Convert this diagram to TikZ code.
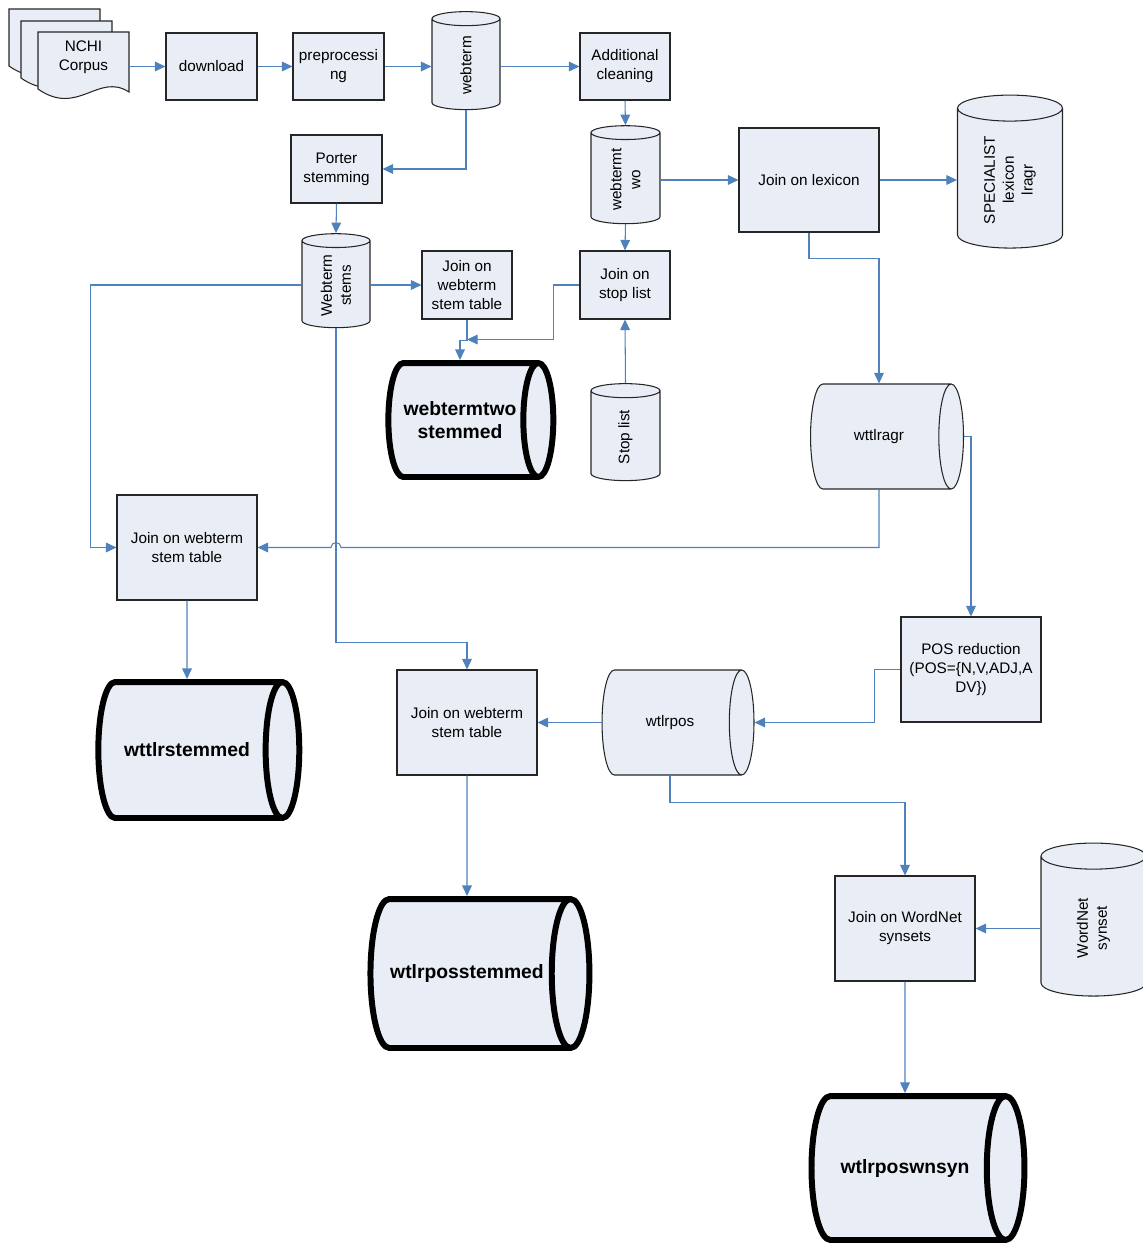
\documentclass[tikz,border=0pt]{standalone}
\usepackage{fontspec}
\setsansfont{Liberation Sans}
\usetikzlibrary{shapes.geometric,arrows.meta,calc}
\definecolor{boxfill}{RGB}{233,237,246}
\definecolor{flowblue}{RGB}{79,129,189}

\begin{document}
\begin{tikzpicture}[x=0.02cm, y=-0.02cm,
    font=\sffamily\fontsize{8.7}{10.8}\selectfont,
    doc/.style={draw=black!85, line width=0.6pt, fill=boxfill},
    proc/.style={draw=black!85, line width=0.6pt, fill=boxfill, align=center, inner sep=1pt},
    vstore/.style={cylinder, draw=black!85, line width=0.6pt, fill=boxfill, align=center, inner sep=1pt, rotate=90},
    hstore/.style={cylinder, draw=black!85, line width=0.6pt, fill=boxfill, align=center, inner sep=1pt},
    result/.style={hstore, draw=black, line width=3.4pt, font=\sffamily\bfseries\fontsize{11}{13}\selectfont},
    flow/.style={draw=flowblue, line width=0.6pt, -{Triangle[length=6pt,width=5.5pt]}}]
  \useasboundingbox (0,0) rectangle (1143,1245);

  % corpus pages
  \foreach \dx/\dy in {9/9, 21/21, 38/32}
    \draw[doc, shift={(\dx,\dy)}] (0,0) -- (91,0) -- (91,60) .. controls (60,40) and (40,85) .. (0,57) -- cycle;
  \node[align=center, minimum width=1.82cm] (corpus) at (83.5,57.5) {NCHI\\Corpus};

  % top row
  \node[proc, minimum width=1.82cm, minimum height=1.34cm] (download) at (211.5,66.5) {download};
  \node[proc, minimum width=1.82cm, minimum height=1.34cm] (prep) at (338.5,66.5) {preprocessi\\ng};
  \node[vstore, minimum height=1.96cm, minimum width=1.36cm, aspect=0.95] (webterm) at (466,65.5) {webterm};
  \node[proc, minimum width=1.8cm, minimum height=1.34cm] (clean) at (625,66.5) {Additional\\cleaning};

  % lexicon branch
  \node[vstore, minimum height=1.96cm, minimum width=1.38cm, aspect=0.41] (webtermtwo) at (625.5,179.5) {webtermt\\wo};
  \node[proc, minimum width=2.8cm, minimum height=2.08cm] (lexicon) at (809,180) {Join on lexicon};
  \node[vstore, minimum height=3.06cm, minimum width=2.1cm, aspect=0.47] (specialist) at (1010,180) {SPECIALIST\\lexicon\\lragr};
  \node[hstore, minimum height=3.06cm, minimum width=2.1cm, aspect=1.39] (wttlragr) at (879,436.5) {wttlragr};

  % stemming branch
  \node[proc, minimum width=1.82cm, minimum height=1.36cm] (porter) at (336.5,169) {Porter\\stemming};
  \node[vstore, minimum height=1.88cm, minimum width=1.36cm, aspect=0.41] (stems) at (336,285.5) {Webterm\\stems};
  \node[proc, minimum width=1.8cm, minimum height=1.36cm] (joinA) at (467,285) {Join on\\webterm\\stem table};
  \node[proc, minimum width=1.8cm, minimum height=1.36cm] (stopjoin) at (625,285) {Join on\\stop list};
  \node[vstore, minimum height=1.94cm, minimum width=1.38cm, aspect=0.79] (stoplist) at (625.5,437) {Stop list};
  \node[result, minimum height=3.3cm, minimum width=2.28cm, aspect=0.74] (wtstemmed) at (460,420) {webtermtwo\\stemmed};

  % lower part
  \node[proc, minimum width=2.8cm, minimum height=2.1cm] (joinL) at (187,547.5) {Join on webterm\\stem table};
  \node[result, minimum height=4.02cm, minimum width=2.72cm, aspect=1.9] (wttlrstemmed) at (187,750) {wttlrstemmed};
  \node[proc, minimum width=2.8cm, minimum height=2.1cm] (pos) at (971,669.5) {POS reduction\\(POS=\{N,V,ADJ,A\\DV\})};
  \node[hstore, minimum height=3.04cm, minimum width=2.1cm, aspect=1.39] (wtlrpos) at (670,722.5) {wtlrpos};
  \node[proc, minimum width=2.8cm, minimum height=2.1cm] (joinM) at (467,722.5) {Join on webterm\\stem table};
  \node[result, minimum height=4.38cm, minimum width=2.98cm, aspect=1.75] (posstemmed) at (467,973.5) {wtlrposstemmed};
  \node[proc, minimum width=2.8cm, minimum height=2.1cm] (joinWN) at (905,928.5) {Join on WordNet\\synsets};
  \node[vstore, minimum height=3.06cm, minimum width=2.1cm, aspect=0.71] (wordnet) at (1093.5,928) {WordNet\\synset};
  \node[result, minimum height=4.26cm, minimum width=2.88cm, aspect=1.75] (wnsyn) at (905,1168) {wtlrposwnsyn};

  % connectors (vertical stores: .east = top, .west = bottom, .north = left, .south = right)
  \draw[flow] (corpus.east |- download.west) -- (download.west);
  \draw[flow] (download.east) -- (prep.west);
  \draw[flow] (prep.east) -- (prep.east -| webterm.north);
  \draw[flow] (webterm.south |- clean.west) -- (clean.west);
  \draw[flow] (webterm.west) |- (porter.east);
  \draw[flow] (clean.south) -- (webtermtwo.east);
  \draw[flow] (webtermtwo.south |- lexicon.west) -- (lexicon.west);
  \draw[flow] (lexicon.east) -- (lexicon.east -| specialist.north);
  \draw[flow] (lexicon.south) -- ++(0,26) -| (wttlragr.north);
  \draw[flow] (webtermtwo.west) -- (stopjoin.north);
  \draw[flow] (porter.south) -- (stems.east);
  \draw[flow] (stems.south |- joinA.west) -- (joinA.west);
  \draw[flow] (stems.north |- joinA.west) -- ++(-211,0) |- (joinL.west);
  \draw[flow] (stems.west) -- ++(0,314) -| (joinM.north);
  \draw[flow] (joinA.south) -- ++(0,21) -| (wtstemmed.north);
  \draw[flow] (stopjoin.west) -- ++(-26,0) |- ([yshift=-0.4cm]joinA.south);
  \draw[flow] (stoplist.east) -- (stopjoin.south);
  \draw[flow] (wttlragr.south) |- ($(stems.west |- joinL.east)+(5,0)$)
    arc[start angle=0, end angle=180, radius=0.1cm] -- (joinL.east);
  \draw[flow] (wttlragr.east) -| (pos.north);
  \draw[flow] (pos.west) -- ++(-26,0) |- (wtlrpos.east);
  \draw[flow] (wtlrpos.west) -- (wtlrpos.west -| joinM.east);
  \draw[flow] (wtlrpos.south) -- ++(0,27) -| (joinWN.north);
  \draw[flow] (wordnet.north |- joinWN.east) -- (joinWN.east);
  \draw[flow] (joinWN.south) -- (wnsyn.north);
  \draw[flow] (joinM.south) -- (posstemmed.north);
  \draw[flow] (joinL.south) -- (wttlrstemmed.north);
\end{tikzpicture}
\end{document}
